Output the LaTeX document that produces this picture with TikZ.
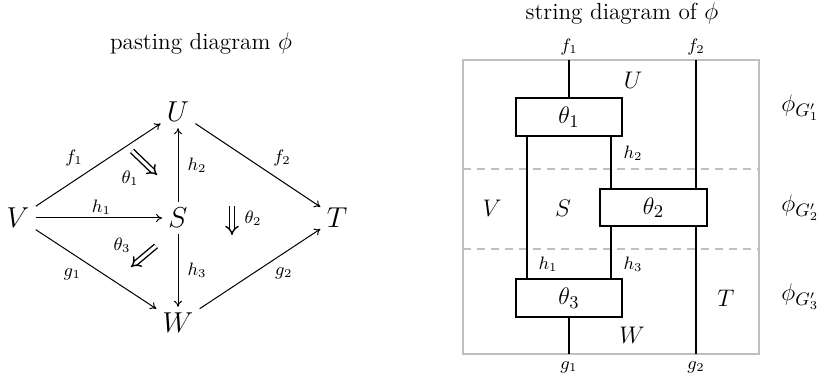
\documentclass[tikz,border=0pt]{standalone}
\usetikzlibrary{arrows.meta,calc}
\begin{document}
\begin{tikzpicture}[x=0.5pt,y=-0.5pt,
  obj/.style={inner sep=3pt,font=\fontsize{14.4}{17}\selectfont},
  lbl/.style={inner sep=1.5pt,font=\fontsize{9}{11}\selectfont},
  title/.style={font=\fontsize{11.6}{14}\selectfont},
  mor/.style={-{To[length=3pt,width=4pt]},line width=0.5pt},
  twocell/.style={-{Implies},double,double distance=1.6pt,line width=0.7pt},
  wire/.style={line width=1pt},
  boxn/.style={draw,line width=1pt,outer sep=0pt,minimum width=53pt,minimum height=19pt,inner sep=0pt,font=\fontsize{13}{15}\selectfont},
  region/.style={inner sep=0pt,font=\fontsize{12.5}{15}\selectfont},
  frame/.style={draw=black!25,line width=1pt},
  sep/.style={draw=black!25,line width=1pt,dash pattern=on 4pt off 3pt},
  side/.style={anchor=west,inner sep=0pt,font=\fontsize{13}{15}\selectfont}]
\useasboundingbox (0,0) rectangle (820,384);
% ---------- pasting diagram ----------
\node[title] (t1) at (201,44) {pasting diagram $\phi$};
\node[obj] (U) at (178,112) {$U$};
\node[obj] (V) at (18,218) {$V$};
\node[obj] (S) at (178,218) {$S$};
\node[obj] (T) at (337,218) {$T$};
\node[obj] (W) at (178,323) {$W$};
\draw[mor] (V) -- node[lbl,pos=0.42,above left=1pt] {$f_1$} (U);
\draw[mor] (V) -- node[lbl,pos=0.52,above] {$h_1$} (S);
\draw[mor] (V) -- node[lbl,pos=0.42,below left=1pt] {$g_1$} (W);
\draw[mor] (U) -- node[lbl,pos=0.58,above right=1pt] {$f_2$} (T);
\draw[mor] (W) -- node[lbl,pos=0.58,below right=1pt] {$g_2$} (T);
\draw[mor] (S) -- node[lbl,right=3pt] {$h_2$} (U);
\draw[mor] (S) -- node[lbl,right=3pt] {$h_3$} (W);
\coordinate (a1s) at (132,151); \coordinate (a1e) at (157,175);
\draw[twocell] (a1s) -- (a1e);
\node[lbl] (th1) at (130,178) {$\theta_1$};
\coordinate (a3s) at (156,246); \coordinate (a3e) at (131,267);
\draw[twocell] (a3s) -- (a3e);
\node[lbl] (th3) at (122,245) {$\theta_3$};
\coordinate (a2s) at (232,206); \coordinate (a2e) at (232,235);
\draw[twocell] (a2s) -- (a2e);
\node[lbl] (th2) at (253,218) {$\theta_2$};
% ---------- string diagram ----------
\node[title] (t2) at (622,14) {string diagram of $\phi$};
\coordinate (fr1) at (463,60); \coordinate (fr2) at (759,354);
\draw[frame] (fr1) rectangle (fr2);
\coordinate (d1l) at (463,169); \coordinate (d1r) at (759,169);
\coordinate (d2l) at (463,249); \coordinate (d2r) at (759,249);
\draw[sep] (d1l) -- (d1r);
\draw[sep] (d2l) -- (d2r);
\node[boxn] (b1) at (569,117) {$\theta_1$};
\node[boxn,minimum width=53.5pt,minimum height=18.5pt] (b2) at (653.5,207.5) {$\theta_2$};
\node[boxn] (b3) at (569,298) {$\theta_3$};
\coordinate (f1t) at (569,60);
\coordinate (f2t) at (696,60);
\coordinate (g1b) at (569,354);
\coordinate (g2b) at (696,354);
\draw[wire] (f1t) -- (b1.north);
\draw[wire] (f2t) -- ([xshift=-5.5pt]b2.north east);
\draw[wire] ([xshift=5.5pt]b1.south west) -- ([xshift=5.5pt]b3.north west);
\draw[wire] ([xshift=-5.5pt]b1.south east) -- ([xshift=5.5pt]b2.north west);
\draw[wire] ([xshift=5.5pt]b2.south west) -- ([xshift=-5.5pt]b3.north east);
\draw[wire] ([xshift=-5.5pt]b2.south east) -- (g2b);
\draw[wire] (b3.south) -- (g1b);
\node[lbl,above=1pt] (lf1) at (f1t) {$f_1$};
\node[lbl,above=1pt] (lf2) at (f2t) {$f_2$};
\node[lbl,below=2pt] (lg1) at (g1b) {$g_1$};
\node[lbl,below=2pt] (lg2) at (g2b) {$g_2$};
\node[lbl] (lh2) at (633,153) {$h_2$};
\node[lbl] (lh1) at (548,264) {$h_1$};
\node[lbl] (lh3) at (633,264) {$h_3$};
\node[region] (rU) at (633,80) {$U$};
\node[region] (rV) at (492,208) {$V$};
\node[region] (rS) at (563,208) {$S$};
\node[region] (rT) at (726,298) {$T$};
\node[region] (rW) at (632,335) {$W$};
\node[side] (p1) at (781,108) {$\phi_{G'_1}$};
\node[side] (p2) at (781,208) {$\phi_{G'_2}$};
\node[side] (p3) at (781,297) {$\phi_{G'_3}$};
\end{tikzpicture}
\end{document}
